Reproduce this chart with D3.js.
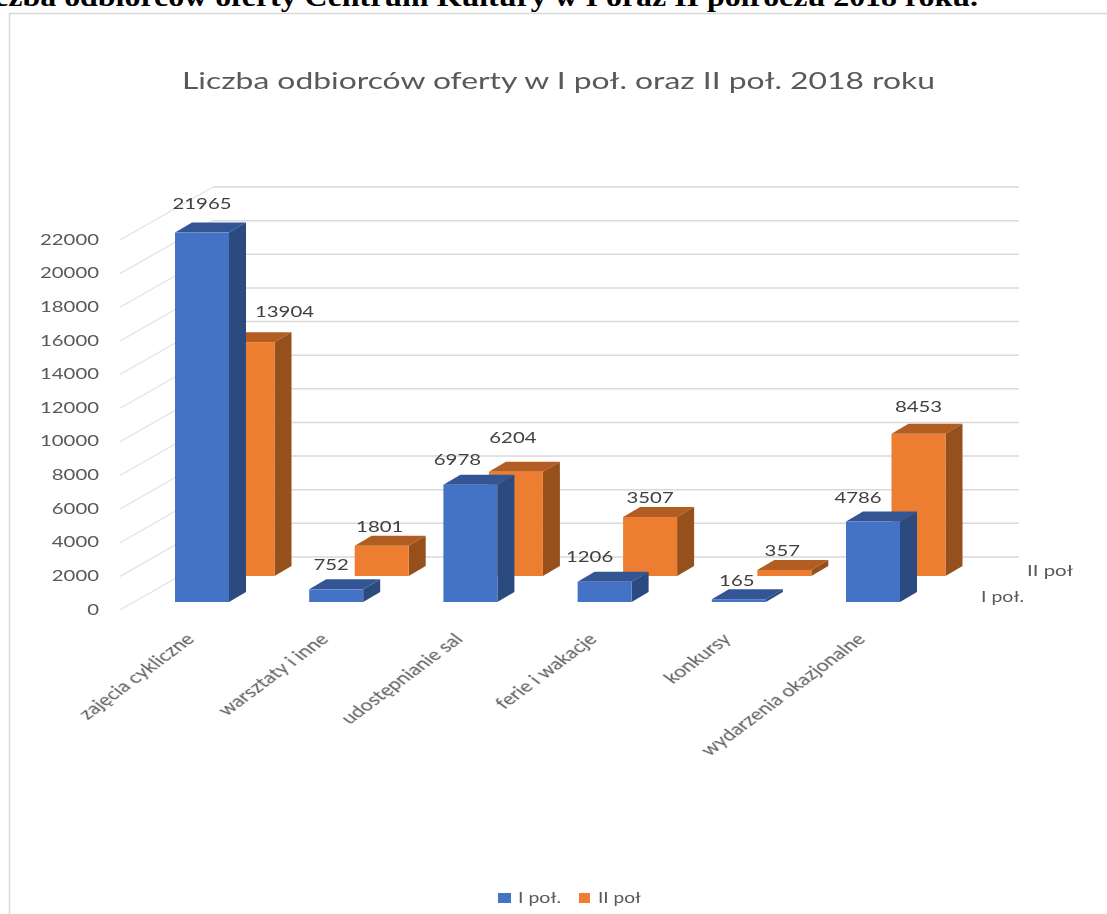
<!DOCTYPE html>
<html lang="pl">
<head>
<meta charset="utf-8">
<style>
html,body{margin:0;padding:0;background:#fff;overflow:hidden}
svg{display:block}
text{font-family:Lato,"Open Sans",sans-serif;filter:blur(0.4px)}
text.heading{filter:none}
</style>
<script src="https://cdn.jsdelivr.net/npm/d3@7/dist/d3.min.js"></script>
</head>
<body>
<script>
// ---- data
const categories = ["zajęcia cykliczne","warsztaty i inne","udostępnianie sal","ferie i wakacje","konkursy","wydarzenia okazjonalne"];
const seriesNames = ["I poł.","II poł"];
const valuesI  = [21965,752,6978,1206,165,4786];
const valuesII = [13904,1801,6204,3507,357,8453];
const yTicks = [0,2000,4000,6000,8000,10000,12000,14000,16000,18000,20000,22000];
const headingText = "Liczba odbiorców oferty Centrum Kultury w I oraz II półroczu 2018 roku.";
const chartTitle = "Liczba odbiorców oferty w I poł. oraz II poł. 2018 roku";

// ---- layout (not data)
const W = 1107, H = 914;
const blue  = {front:"#4472C4", top:"#335593", side:"#2A4A80"};
const orange= {front:"#ED7D31", top:"#B25E22", side:"#95501C"};
const barW = 54, depthX = 17, depthY = -10;
const labelDxI  = [27,22,14,12,25,12];
const labelDyI  = [29,25,25,25,18,24];
const labelDxII = [64,25,24,27,25,27];
const labelDyII = [30,19,34,19,19,27];

const svg = d3.select("body").append("svg").attr("width",W).attr("height",H).attr("viewBox",`0 0 ${W} ${H}`);

const x = d3.scalePoint().domain(categories).range([175,846]);
const y = d3.scaleLinear().domain([0,22000]).range([602,232]);
const seriesOffset = d3.scaleOrdinal().domain(seriesNames).range([{dx:0,dy:0},{dx:45.5,dy:-26}]);

// frame
svg.append("path").attr("d",`M9.5,${H}V13.5H${W}`).attr("fill","none").attr("stroke","#D9D9D9").attr("stroke-width",1.5);

// heading (clipped by the page edges, as in the reference)
svg.append("text").attr("class","heading")
  .attr("transform","translate(978,6) scale(1.14,1)").attr("text-anchor","end")
  .style("font-family","'Liberation Serif',serif").style("font-weight","700").style("font-size","28px")
  .attr("fill","#000").text(headingText);

// chart title
svg.append("text").attr("x",558.5).attr("y",89).attr("text-anchor","middle")
  .attr("textLength",753).attr("lengthAdjust","spacingAndGlyphs")
  .style("font-size","23px").attr("fill","#595959").text(chartTitle);

// back-wall grid and side-wall ladder lines, derived from the y scale
const wallX0 = 213, wallX1 = 1019, wallDy = -45, ladderX = 120, ladderDy = 8;
const grid = svg.append("g");
grid.selectAll("line.wall").data(yTicks).join("line").attr("class","wall")
  .attr("x1",wallX0).attr("x2",wallX1)
  .attr("y1",d=>y(d)+wallDy).attr("y2",d=>y(d)+wallDy)
  .attr("stroke","#D9D9D9").attr("stroke-width",1.5);
grid.selectAll("line.side").data(yTicks).join("line").attr("class","side")
  .attr("x1",ladderX).attr("x2",wallX0)
  .attr("y1",d=>y(d)+ladderDy).attr("y2",d=>y(d)+wallDy)
  .attr("stroke","#E2E2E2").attr("stroke-width",1.2);

// y axis labels
const digitW = 11.8;
const axis = svg.append("g").attr("transform","translate(99,7.5)")
  .call(d3.axisLeft(y).tickValues(yTicks).tickSize(0).tickPadding(0).tickFormat(d3.format("d")));
axis.select(".domain").remove();
axis.selectAll("text")
  .style("font-family","Lato,sans-serif").style("font-size","14.5px").attr("fill","#595959")
  .attr("textLength",function(d){return String(d).length*digitW;})
  .attr("lengthAdjust","spacingAndGlyphs");

// 3D bars
function drawBars(values,colors,name){
  const off = seriesOffset(name);
  const g = svg.append("g").attr("class","series");
  const rows = categories.map((c,i)=>({c,v:values[i]}));
  const L = d=>x(d.c)+off.dx, R = d=>L(d)+barW, T = d=>y(d.v)+off.dy, B = ()=>y(0)+off.dy;
  const pts = a=>a.map(p=>p.join(",")).join(" ");
  g.selectAll("polygon.top").data(rows).join("polygon").attr("class","top").attr("fill",colors.top)
    .attr("points",d=>pts([[L(d),T(d)],[R(d),T(d)],[R(d)+depthX,T(d)+depthY],[L(d)+depthX,T(d)+depthY]]));
  g.selectAll("polygon.side").data(rows).join("polygon").attr("class","side").attr("fill",colors.side)
    .attr("points",d=>pts([[R(d),T(d)],[R(d)+depthX,T(d)+depthY],[R(d)+depthX,B()+depthY],[R(d),B()]]));
  g.selectAll("rect.front").data(rows).join("rect").attr("class","front").attr("fill",colors.front)
    .attr("x",L).attr("y",T).attr("width",barW).attr("height",d=>B()-T(d));
}
drawBars(valuesII,orange,seriesNames[1]);
drawBars(valuesI,blue,seriesNames[0]);

// value labels
function drawLabels(values,name,dxs,dys){
  const off = seriesOffset(name);
  svg.append("g").selectAll("text").data(values).join("text")
    .attr("x",(d,i)=>x(categories[i])+off.dx+dxs[i])
    .attr("y",(d,i)=>y(d)+off.dy-dys[i])
    .attr("dy","0.36em").attr("text-anchor","middle")
    .attr("textLength",d=>String(d).length*digitW).attr("lengthAdjust","spacingAndGlyphs")
    .style("font-size","14.5px").attr("fill","#404040").text(d=>d);
}
drawLabels(valuesI,seriesNames[0],labelDxI,labelDyI);
drawLabels(valuesII,seriesNames[1],labelDxII,labelDyII);

// category labels (rotated, then stretched like the reference image)
svg.append("g").selectAll("text").data(categories).join("text")
  .attr("transform",d=>`translate(${x(d)+15},636) scale(1.346,1) rotate(-45)`)
  .attr("text-anchor","end").attr("dy","0.35em")
  .style("font-size","15.8px").attr("fill","#595959").text(d=>d);

// series-axis labels
const serLabels = svg.append("g");
serLabels.selectAll("text").data(seriesNames).join("text")
  .attr("x",(d,i)=>[981,1027][i]).attr("y",(d,i)=>[597,571][i]).attr("dy","0.36em")
  .attr("textLength",(d,i)=>[43,46][i]).attr("lengthAdjust","spacingAndGlyphs")
  .style("font-size","14.5px").attr("fill","#595959").text(d=>d);

// legend
const legend = svg.append("g");
legend.selectAll("rect").data(seriesNames).join("rect")
  .attr("x",(d,i)=>[498,579][i]).attr("y",893).attr("width",(d,i)=>[13,11][i]).attr("height",10)
  .attr("fill",(d,i)=>[blue.front,orange.front][i]);
legend.selectAll("text").data(seriesNames).join("text")
  .attr("x",(d,i)=>[518,598][i]).attr("y",897.5).attr("dy","0.36em")
  .attr("textLength",43).attr("lengthAdjust","spacingAndGlyphs")
  .style("font-size","14.5px").attr("fill","#595959").text(d=>d);
</script>
</body>
</html>
